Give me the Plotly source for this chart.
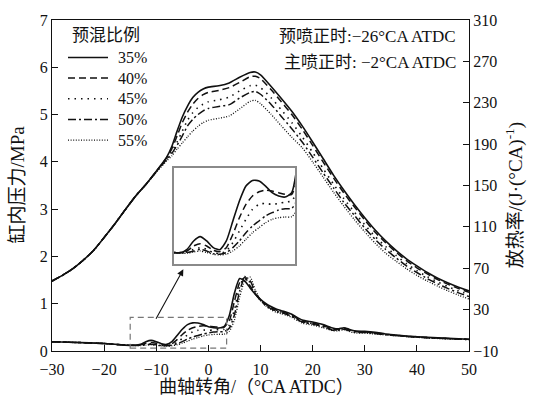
import plotly.graph_objects as go

# ---------------- data ----------------
series_names = ["35%", "40%", "45%", "50%", "55%"]

# cylinder pressure (MPa) vs crank angle
x_p = [-30, -28, -26, -24, -22, -20, -18, -16, -14, -12, -10, -8, -7, -6, -5, -4, -3, -2, -1, 0,
       2, 4, 6, 8, 9, 10, 12, 14, 16, 18, 20, 22, 24, 26, 28, 30, 32, 34, 36, 38, 40, 42, 44, 46, 48, 50]
p_35 = [1.48, 1.60, 1.74, 1.92, 2.13, 2.40, 2.68, 2.98, 3.27, 3.52, 3.80, 4.10, 4.33, 4.65, 4.95, 5.18, 5.36, 5.47, 5.54, 5.58,
        5.61, 5.67, 5.79, 5.89, 5.90, 5.84, 5.60, 5.34, 5.07, 4.76, 4.42, 4.07, 3.72, 3.40, 3.10, 2.82, 2.56, 2.33, 2.13, 1.95, 1.80, 1.66, 1.54, 1.44, 1.35, 1.27]
p_40 = [1.48, 1.60, 1.74, 1.92, 2.13, 2.40, 2.68, 2.98, 3.27, 3.52, 3.80, 4.09, 4.28, 4.55, 4.83, 5.05, 5.22, 5.34, 5.42, 5.47,
        5.51, 5.57, 5.68, 5.80, 5.81, 5.76, 5.53, 5.27, 5.00, 4.69, 4.35, 4.00, 3.66, 3.34, 3.05, 2.77, 2.51, 2.29, 2.09, 1.91, 1.76, 1.63, 1.51, 1.41, 1.32, 1.24]
p_45 = [1.48, 1.60, 1.74, 1.92, 2.13, 2.40, 2.68, 2.98, 3.27, 3.52, 3.79, 4.07, 4.22, 4.42, 4.65, 4.88, 5.04, 5.15, 5.22, 5.27,
        5.31, 5.37, 5.50, 5.61, 5.62, 5.57, 5.36, 5.10, 4.83, 4.53, 4.20, 3.86, 3.53, 3.22, 2.94, 2.67, 2.42, 2.21, 2.02, 1.85, 1.70, 1.57, 1.46, 1.36, 1.27, 1.19]
p_50 = [1.48, 1.60, 1.74, 1.92, 2.13, 2.40, 2.68, 2.98, 3.27, 3.52, 3.79, 4.05, 4.18, 4.35, 4.55, 4.76, 4.90, 5.00, 5.08, 5.13,
        5.17, 5.21, 5.35, 5.47, 5.49, 5.43, 5.22, 4.96, 4.70, 4.42, 4.10, 3.77, 3.45, 3.14, 2.87, 2.60, 2.36, 2.15, 1.97, 1.80, 1.66, 1.53, 1.42, 1.32, 1.23, 1.15]
p_55 = [1.48, 1.60, 1.74, 1.92, 2.13, 2.40, 2.68, 2.98, 3.27, 3.52, 3.78, 4.02, 4.13, 4.27, 4.40, 4.53, 4.65, 4.75, 4.83, 4.88,
        4.92, 4.97, 5.12, 5.28, 5.30, 5.23, 5.01, 4.76, 4.52, 4.30, 4.00, 3.68, 3.36, 3.06, 2.78, 2.52, 2.28, 2.07, 1.90, 1.74, 1.60, 1.48, 1.37, 1.27, 1.18, 1.10]

# heat release rate (J/°CA) vs crank angle
x_h = [-30, -25, -20, -16, -14, -13, -12, -11, -10, -9, -8, -7, -6, -5, -4, -3, -2, -1, 0, 1, 2, 3,
       4, 5, 6, 7, 8, 9, 10, 11, 12, 13, 14, 15, 16, 18, 20, 22, 24, 25, 26, 27, 28, 30, 32, 34, 36, 38, 40, 42, 44, 46, 48, 50]
h_35 = [-1.0, -1.8, -2.8, -4.3, -4.5, -3.5, -1.0, 0.3, -1.0, -3.0, -3.6, -1.0, 5.0, 11.0, 15.5, 17.2, 17.0, 15.5, 13.5, 12.5, 12.2, 13.5,
        24.0, 46.0, 60.0, 57.5, 51.0, 45.0, 40.0, 36.0, 33.0, 30.5, 29.0, 27.5, 25.5, 20.0, 18.0, 15.5, 12.0, 11.5, 12.5, 11.0, 9.5, 9.0, 8.0, 6.5, 5.5, 4.5, 3.8, 3.2, 2.7, 2.2, 1.8, 1.4]
h_40 = [-1.0, -1.8, -2.8, -4.3, -4.5, -4.0, -2.5, -1.8, -2.5, -3.8, -4.2, -3.0, 1.0, 6.0, 10.0, 12.5, 13.8, 14.3, 14.0, 13.5, 13.0, 13.0,
        19.0, 38.0, 56.0, 61.0, 53.0, 45.0, 39.0, 35.0, 32.0, 29.5, 28.0, 26.5, 24.5, 19.0, 17.0, 14.5, 11.0, 11.0, 12.0, 10.5, 9.0, 8.5, 7.5, 6.2, 5.2, 4.3, 3.6, 3.0, 2.5, 2.1, 1.7, 1.3]
h_45 = [-1.0, -1.8, -2.8, -4.3, -4.5, -4.3, -3.5, -3.0, -3.5, -4.5, -4.8, -4.0, -1.5, 2.0, 5.5, 8.5, 10.0, 10.3, 10.0, 10.3, 10.7, 11.0,
        15.0, 30.0, 52.0, 62.0, 56.0, 46.0, 39.0, 34.5, 31.5, 29.0, 27.5, 26.0, 24.0, 18.5, 16.5, 14.0, 10.5, 10.5, 11.5, 10.0, 8.5, 8.0, 7.0, 6.0, 5.0, 4.2, 3.5, 2.9, 2.4, 2.0, 1.6, 1.2]
h_50 = [-1.0, -1.8, -2.8, -4.3, -4.6, -4.5, -4.0, -3.5, -4.0, -4.8, -5.0, -4.5, -3.0, -1.0, 1.5, 3.5, 5.0, 6.5, 7.5, 8.3, 8.7, 8.8,
        12.0, 25.0, 48.0, 61.0, 58.0, 47.0, 39.0, 34.0, 31.0, 28.5, 27.0, 25.5, 23.5, 18.0, 16.0, 13.5, 10.0, 10.0, 11.0, 9.5, 8.0, 7.8, 6.8, 5.8, 4.9, 4.1, 3.4, 2.8, 2.3, 1.9, 1.5, 1.1]
h_55 = [-1.0, -1.8, -2.8, -4.3, -4.7, -4.7, -4.3, -4.0, -4.5, -5.0, -5.2, -5.0, -4.0, -2.5, -0.5, 1.5, 3.0, 4.5, 5.5, 6.0, 6.2, 6.3,
        9.0, 20.0, 42.0, 58.0, 61.5, 49.0, 39.5, 33.5, 30.0, 27.5, 26.0, 24.5, 22.5, 17.0, 15.0, 12.5, 9.5, 9.5, 10.5, 9.0, 7.5, 7.3, 6.4, 5.5, 4.7, 3.9, 3.2, 2.6, 2.1, 1.7, 1.3, 1.0]

p_series = [p_35, p_40, p_45, p_50, p_55]
h_series = [h_35, h_40, h_45, h_50, h_55]

x_ticks = [-30, -20, -10, 0, 10, 20, 30, 40, 50]
p_ticks = [0, 1, 2, 3, 4, 5, 6, 7]
h_ticks = [-10, 30, 70, 110, 150, 190, 230, 270, 310]

# ---------------- styles ----------------
dashes = ["solid", "7px,4px", "1.5px,5px", "8px,3px,2px,3px", "1px,1.6px"]
widths = [1.6, 1.5, 1.6, 1.5, 1.3]
serif = "Liberation Serif, Noto Sans CJK SC, serif"
black = "#111111"

fig = go.Figure()

for name, ys, d, w in zip(series_names, p_series, dashes, widths):
    fig.add_trace(go.Scatter(x=x_p, y=ys, mode="lines", name=name, showlegend=False,
                             line=dict(color=black, width=w, dash=d, shape="spline", smoothing=0.6),
                             xaxis="x", yaxis="y"))
for name, ys, d, w in zip(series_names, h_series, dashes, widths):
    fig.add_trace(go.Scatter(x=x_h, y=ys, mode="lines", name=name, showlegend=False,
                             line=dict(color=black, width=w, dash=d, shape="spline", smoothing=0.6),
                             xaxis="x", yaxis="y2"))
# inset: zoom of HRR in the dashed window
for name, ys, d, w in zip(series_names, h_series, dashes, widths):
    fig.add_trace(go.Scatter(x=x_h, y=ys, mode="lines", name=name, showlegend=False,
                             line=dict(color=black, width=w, dash=d, shape="spline", smoothing=0.6),
                             xaxis="x3", yaxis="y3"))

axis_common = dict(showline=True, linecolor=black, linewidth=1.2, ticks="inside", ticklen=6,
                   tickwidth=1.2, tickcolor=black, showgrid=False, zeroline=False,
                   tickfont=dict(family=serif, size=16, color=black))

fig.update_layout(
    width=534, height=409,
    margin=dict(l=52, r=65, t=15, b=58),
    plot_bgcolor="white", paper_bgcolor="white",
    showlegend=False,
    xaxis=dict(range=[-30, 50], tickvals=x_ticks, ticktext=[str(v).replace("-", "−") for v in x_ticks],
               mirror=True, domain=[0, 1], anchor="y", ticklabelstandoff=4, **axis_common),
    yaxis=dict(range=[0, 7], tickvals=p_ticks, domain=[0, 1], anchor="x", **axis_common),
    yaxis2=dict(range=[-10, 310], tickvals=h_ticks, ticktext=[str(v).replace("-", "−") for v in h_ticks],
                overlaying="y", side="right", anchor="x", **axis_common),
    xaxis3=dict(range=[-15, 3.5], domain=[0.2926, 0.5827], anchor="y3", showticklabels=False,
                showline=True, mirror=True, linecolor="#8a8a8a", linewidth=1.5, ticks="",
                showgrid=False, zeroline=False),
    yaxis3=dict(range=[-8, 21], domain=[0.262, 0.5536], anchor="x3", showticklabels=False,
                showline=True, mirror=True, linecolor="#8a8a8a", linewidth=1.5, ticks="",
                showgrid=False, zeroline=False),
)

# dashed window on main axes
fig.add_shape(type="rect", xref="x", yref="y", x0=-15, x1=3.5, y0=0.06, y1=0.71,
              line=dict(color="#777777", width=1.2, dash="6px,4px"))

# arrow from window to inset
fig.add_annotation(x=-4.8, y=1.73, ax=-10.2, ay=0.65, xref="x", yref="y", axref="x", ayref="y",
                   text="", showarrow=True, arrowhead=2, arrowsize=1.2, arrowwidth=1.1, arrowcolor=black)

# manual legend
fig.add_annotation(x=(106 - 52) / 417, y=(351 - 31) / 336, xref="paper", yref="paper",
                   text="预混比例", showarrow=False, xanchor="center", yanchor="middle",
                   font=dict(family=serif, size=17, color=black))
leg_y = [53, 74, 95, 116, 137]
for name, d, w, py in zip(series_names, dashes, widths, leg_y):
    yp = (351 - py) / 336
    fig.add_shape(type="line", xref="paper", yref="paper", x0=(68 - 52) / 417, x1=(108 - 52) / 417,
                  y0=yp, y1=yp, line=dict(color=black, width=w, dash=d))
    fig.add_annotation(x=(116 - 52) / 417, y=yp, xref="paper", yref="paper", text=name,
                       showarrow=False, xanchor="left", yanchor="middle",
                       font=dict(family=serif, size=16, color=black))

# injection timing text
fig.add_annotation(x=(458 - 52) / 417, y=(351 - 32) / 336, xref="paper", yref="paper",
                   text="预喷正时:−26°CA ATDC", showarrow=False, xanchor="right", yanchor="middle",
                   font=dict(family=serif, size=17, color=black))
fig.add_annotation(x=(458 - 52) / 417, y=(351 - 58) / 336, xref="paper", yref="paper",
                   text="主喷正时: −2°CA ATDC", showarrow=False, xanchor="right", yanchor="middle",
                   font=dict(family=serif, size=17, color=black))

# axis titles
fig.add_annotation(x=(18 - 52) / 417, y=(351 - 182) / 336, xref="paper", yref="paper",
                   text="缸内压力/MPa", textangle=-90, showarrow=False, xanchor="center", yanchor="middle",
                   font=dict(family=serif, size=19, color=black))
fig.add_annotation(x=(514 - 52) / 417, y=(351 - 193) / 336, xref="paper", yref="paper",
                   text="放热率/(J·(°CA)<sup>-1</sup>)", textangle=-90, showarrow=False,
                   xanchor="center", yanchor="middle",
                   font=dict(family=serif, size=19, color=black))
fig.add_annotation(x=(256 - 52) / 417, y=(351 - 388) / 336, xref="paper", yref="paper",
                   text="曲轴转角/（°CA ATDC）", showarrow=False, xanchor="center", yanchor="middle",
                   font=dict(family=serif, size=18, color=black))

fig.write_html("out.html")
